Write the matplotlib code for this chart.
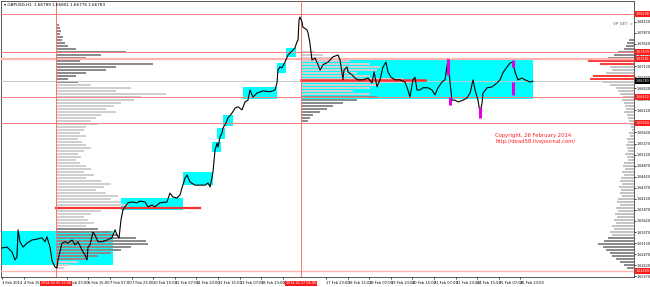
import numpy as np
import matplotlib.pyplot as plt
import matplotlib.transforms as mtransforms
from matplotlib.patches import Rectangle

# GBPUSD H1 closes (bar index, price)
bar = [0, 3.7, 7.4, 9.6, 11.1, 11.9, 13.3, 15.6, 18.5, 22.2, 25.9, 29.6, 31.9, 33.3,
       35.6, 37.0, 37.8, 39.3, 40.7, 41.5, 44.4, 46.7, 48.9, 51.9, 54.1, 56.3, 59.3,
       61.5, 63.0, 63.7, 65.2, 67.4, 68.9, 71.1, 74.1, 77.8, 81.5, 83.7, 85.2, 86.7,
       88.1, 89.6, 91.1, 93.3, 96.3, 100.0, 102.2, 105.9, 108.1, 111.1, 113.3, 117.0,
       122.2, 124.4, 126.7, 129.6, 131.9, 133.3, 135.6, 137.0, 139.3, 143.0, 146.7,
       150.4, 152.6, 154.1, 155.6, 156.3, 157.8, 159.3, 160.0, 161.5, 163.0, 163.7,
       165.9, 167.4, 170.4, 172.6, 174.8, 177.8, 180.0, 182.2, 183.7, 185.9, 188.9,
       193.3, 198.5, 202.2, 203.7, 204.4, 205.9, 207.4, 209.6, 211.9, 214.8, 217.0,
       218.5, 219.3, 220.0, 220.7, 222.2, 222.9, 225.9, 226.7, 228.1, 229.6, 231.9,
       234.1, 235.6, 237.8, 241.5, 245.2, 248.9, 250.4, 252.6, 253.3, 255.6, 256.3,
       259.3, 261.5, 263.7, 267.4, 271.1, 274.1, 275.6, 277.8, 280.0, 282.2, 284.4,
       285.9, 288.1, 291.1, 294.8, 298.5, 300.7, 302.2, 304.4, 305.9, 307.4, 309.6,
       311.9, 315.6, 318.5, 320.7, 323.0, 325.9, 328.1, 330.4, 331.9, 333.3, 335.6,
       337.8, 341.5, 344.4, 346.7, 348.9, 350.4, 352.6, 354.1, 355.6, 356.3, 359.3,
       363.0, 366.7, 368.9, 371.1, 374.1, 376.3, 378.5, 380.0, 382.2, 385.2, 387.4,
       391.1, 393.3]
close = [1.6301, 1.6303, 1.6292, 1.6274, 1.6281, 1.6342, 1.6315, 1.6303, 1.6312, 1.6319,
         1.6321, 1.6324, 1.6315, 1.6326, 1.6303, 1.6274, 1.6267, 1.6258, 1.6256, 1.6274,
         1.6312, 1.6315, 1.6312, 1.6319, 1.6308, 1.6315, 1.6296, 1.6285, 1.6274, 1.6303,
         1.6308, 1.6337, 1.6330, 1.6315, 1.6315, 1.6319, 1.6324, 1.6342, 1.6330, 1.6324,
         1.6364, 1.6387, 1.6394, 1.6403, 1.6405, 1.6403, 1.6407, 1.6405, 1.6394, 1.6398,
         1.6394, 1.6403, 1.6405, 1.6425, 1.6416, 1.6414, 1.6421, 1.6437, 1.6459, 1.6466,
         1.6450, 1.6443, 1.6443, 1.6443, 1.6448, 1.6439, 1.6461, 1.6473, 1.6522, 1.6538,
         1.6529, 1.6552, 1.6561, 1.6572, 1.6583, 1.6595, 1.6606, 1.6617, 1.6620, 1.6613,
         1.6631, 1.6635, 1.6658, 1.6642, 1.6651, 1.6656, 1.6654, 1.6658, 1.6674, 1.6703,
         1.6710, 1.6708, 1.6721, 1.6737, 1.6746, 1.6753, 1.6767, 1.6771, 1.6816, 1.6823,
         1.6812, 1.6800, 1.6794, 1.6787, 1.6764, 1.6726, 1.6730, 1.6715, 1.6703, 1.6715,
         1.6721, 1.6733, 1.6737, 1.6726, 1.6681, 1.6703, 1.6710, 1.6699, 1.6692, 1.6685,
         1.6681, 1.6681, 1.6685, 1.6674, 1.6699, 1.6665, 1.6681, 1.6710, 1.6721, 1.6699,
         1.6687, 1.6681, 1.6681, 1.6676, 1.6658, 1.6642, 1.6681, 1.6687, 1.6658, 1.6658,
         1.6663, 1.6663, 1.6658, 1.6647, 1.6663, 1.6676, 1.6681, 1.6726, 1.6674, 1.6635,
         1.6635, 1.6631, 1.6635, 1.6640, 1.6651, 1.6681, 1.6658, 1.6635, 1.6606, 1.6629,
         1.6651, 1.6663, 1.6665, 1.6674, 1.6681, 1.6697, 1.6710, 1.6719, 1.6721, 1.6699,
         1.6681, 1.6685, 1.6681, 1.6676, 1.6678]

# value-area boxes
box_x0 = [0, 88.1, 134.1, 155.6, 159.3, 163.7, 178.5, 203.7, 210.4, 222.2]
box_x1 = [82.2, 134.1, 156.3, 162.2, 165.2, 171.1, 203.7, 210.4, 217.8, 393.3]
box_lo = [1.6263, 1.6387, 1.6443, 1.6518, 1.6547, 1.6577, 1.6638, 1.6696, 1.6733, 1.6638]
box_hi = [1.6339, 1.6414, 1.6473, 1.6541, 1.6572, 1.6602, 1.6665, 1.6719, 1.6753, 1.6728]

# magenta candles: bar, low, high
mag_bar = [330.4, 331.9, 354.1, 378.5, 378.5]
mag_lo = [1.6692, 1.6624, 1.6595, 1.6710, 1.6647]
mag_hi = [1.6728, 1.6642, 1.6620, 1.6726, 1.6676]

# volume profiles (tick volume per level, top level first)
left_vol = [3, 4, 5, 4, 7, 6, 9, 12, 20, 70, 45, 30, 24, 97, 60, 50, 30, 20, 12, 22,
            35, 75, 60, 110, 85, 78, 65, 58, 50, 60, 45, 40, 35, 42, 30, 28, 24, 30,
            22, 26, 30, 35, 28, 22, 25, 20, 24, 30, 35, 28, 38, 30, 45, 55, 48, 40,
            50, 62, 55, 65, 72, 60, 45, 35, 28, 32, 38, 30, 42, 55, 62, 80, 90, 92,
            75, 65, 55, 42, 30, 22, 14, 8]
mid_vol = [14, 22, 32, 49, 69, 79, 76, 56, 69, 102, 112, 79, 69, 52, 69, 76, 56, 42,
           32, 26, 19, 12, 9, 7]
right_vol = [5, 7, 8, 10, 16, 20, 26, 46, 34, 24, 22, 28, 41, 44, 31, 24, 18, 16, 14,
             11, 12, 10, 9, 8, 10, 7, 6, 5, 4, 3, 2, 5, 4, 7, 6, 8, 7, 6, 9, 7, 6, 10,
             11, 9, 12, 10, 13, 14, 12, 15, 13, 14, 12, 16, 17, 14, 18, 16, 19, 17, 20,
             18, 22, 20, 24, 22, 26, 30, 36, 31, 28, 24, 22, 18, 14, 10, 7]
right_red = [7, 8, 12, 13]

# key levels
full_levels = [1.68298, 1.67439, 1.66422, 1.65834]
box_labels = ['1.68298', '1.67439', '1.67281', '1.66783', '1.66422', '1.65834', '1.62489']
box_label_y = [1.68298, 1.67439, 1.67281, 1.66783, 1.66422, 1.65834, 1.62489]

xticks = [0, 16, 48, 64, 80, 96, 112, 128, 144, 160, 176, 192, 208, 240, 256, 272, 288,
          304, 320, 336, 352, 368, 384]
xlabels = ['3 Feb 2014', '4 Feb 15:00', '5 Feb 23:00', '6 Feb 15:00', '7 Feb 07:00',
           '7 Feb 23:00', '10 Feb 15:00', '11 Feb 07:00', '11 Feb 23:00', '12 Feb 15:00',
           '13 Feb 07:00', '13 Feb 23:00', '14 Feb 15:00', '17 Feb 23:00', '18 Feb 15:00',
           '19 Feb 07:00', '19 Feb 23:00', '20 Feb 15:00', '21 Feb 07:00', '21 Feb 23:00',
           '24 Feb 15:00', '25 Feb 07:00', '25 Feb 23:00']

px = 1.35   # pixels per bar
fs = 2.6
fig = plt.figure(figsize=(6.5, 2.87), dpi=100)
ax = fig.add_axes([1 / 650, 10 / 287, 633 / 650, 276 / 287])
xmax = 632 / px
ax.set_xlim(-0.74, xmax)
ax.set_ylim(1.62354, 1.68591)

for x0, x1, lo, hi in zip(box_x0, box_x1, box_lo, box_hi):
    ax.add_patch(Rectangle((x0, lo), x1 - x0, hi - lo, color='#00ffff', lw=0, zorder=1))

# left profile
lv = np.linspace(1.68049, 1.62557, len(left_vol))
step = lv[0] - lv[1]
lcol = ['#8c8c8c' if (p > 1.6676 or 1.6270 < p < 1.6345) else '#cfcfcf' for p in lv]
ax.barh(lv, np.array(left_vol) / px, left=40.0, height=step * 0.9, color=lcol, lw=0, zorder=2)

# middle profile
mv = np.linspace(1.67439, 1.65879, len(mid_vol))
step = mv[0] - mv[1]
mcol = ['#cfcfcf' if p > 1.6644 else '#8c8c8c' for p in mv]
ax.barh(mv, np.array(mid_vol) / px, left=221.5, height=step * 0.9, color=mcol, lw=0, zorder=2)

# right profile
rv = np.linspace(1.67710, 1.62557, len(right_vol))
step = rv[0] - rv[1]
rcol = ['#8c8c8c' if (p > 1.6728 or p < 1.6324) else '#c4c4c4' for p in rv]
for i in right_red:
    rcol[i] = '#ff3b3b'
rw = np.array(right_vol) / px
ax.barh(rv, rw, left=xmax - rw, height=step * 0.9, color=rcol, lw=0, zorder=2)

# horizontal / vertical levels
for y in full_levels:
    ax.axhline(y, color='#ff7f7f', lw=0.7, zorder=3)
ax.axhline(1.67281, color='#ffb3b3', lw=1.6, zorder=3)
ax.axhline(1.66783, color='#c8c8c8', lw=0.7, zorder=3)
ax.axhline(1.62489, color='#ffb3b3', lw=1.0, zorder=3)
ax.plot([40.0, 146.7], [1.63913, 1.63913], color='#ff3030', lw=1.6, zorder=3)
ax.plot([221.5, 313.3], [1.66806, 1.66806], color='#ff3030', lw=1.8, zorder=3)
ax.axvline(40.0, color='#ff6f6f', lw=0.7, zorder=3)
ax.axvline(221.5, color='#ff6f6f', lw=0.7, zorder=3)

# price
ax.plot(bar, close, color='black', lw=0.8, zorder=4)
ax.vlines(mag_bar, mag_lo, mag_hi, color='#e000e0', lw=2.2, zorder=5)

# axes styling
for s in ax.spines.values():
    s.set_linewidth(0.6)
    s.set_color('#404040')
ax.yaxis.tick_right()
yt = np.round(np.arange(1.6237, 1.6813, 0.0025), 4)
ax.set_yticks(yt)
ax.set_yticklabels(['%.5f' % v for v in yt])
ax.tick_params(axis='y', labelsize=2.4, length=1.2, pad=0.6, width=0.5)
ax.set_xticks(xticks)
ax.set_xticklabels(xlabels, ha='left')
ax.tick_params(axis='x', labelsize=fs, length=1.5, pad=1.5, width=0.5)

ty = mtransforms.blended_transform_factory(ax.transAxes, ax.transData)
for lab, y in zip(box_labels, box_label_y):
    fc = 'black' if lab == '1.66783' else '#ff1a1a'
    ax.text(1.002, y, lab, transform=ty, ha='left', va='center', fontsize=2.4,
            color='white', clip_on=False, zorder=6,
            bbox=dict(facecolor=fc, edgecolor='none', pad=0.4))

tx = mtransforms.blended_transform_factory(ax.transData, ax.transAxes)
for x, lab in [(40.0, '2014.02.05 15:00'), (221.5, '2014.02.17 04:00')]:
    ax.text(x, -0.016, lab, transform=tx, ha='center', va='top', fontsize=2.4,
            color='white', clip_on=False, zorder=6,
            bbox=dict(facecolor='#ff1a1a', edgecolor='none', pad=0.6))

ax.text(0.004, 0.993, '\u25be GBPUSD,H1  1.66789 1.66801 1.66776 1.66783',
        transform=ax.transAxes, ha='left', va='top', fontsize=3.0, color='black')
ax.text(452.6, 1.68072, 'VP GET <', ha='left', va='center', fontsize=3.0, color='#606060')
ax.text(365.2, 1.65484, 'Copyright, 26 February 2014\nhttp://dead58.livejournal.com/',
        ha='left', va='center', fontsize=3.8, color='#ff2020', linespacing=1.1)

fig.savefig('out.png', dpi=100)
